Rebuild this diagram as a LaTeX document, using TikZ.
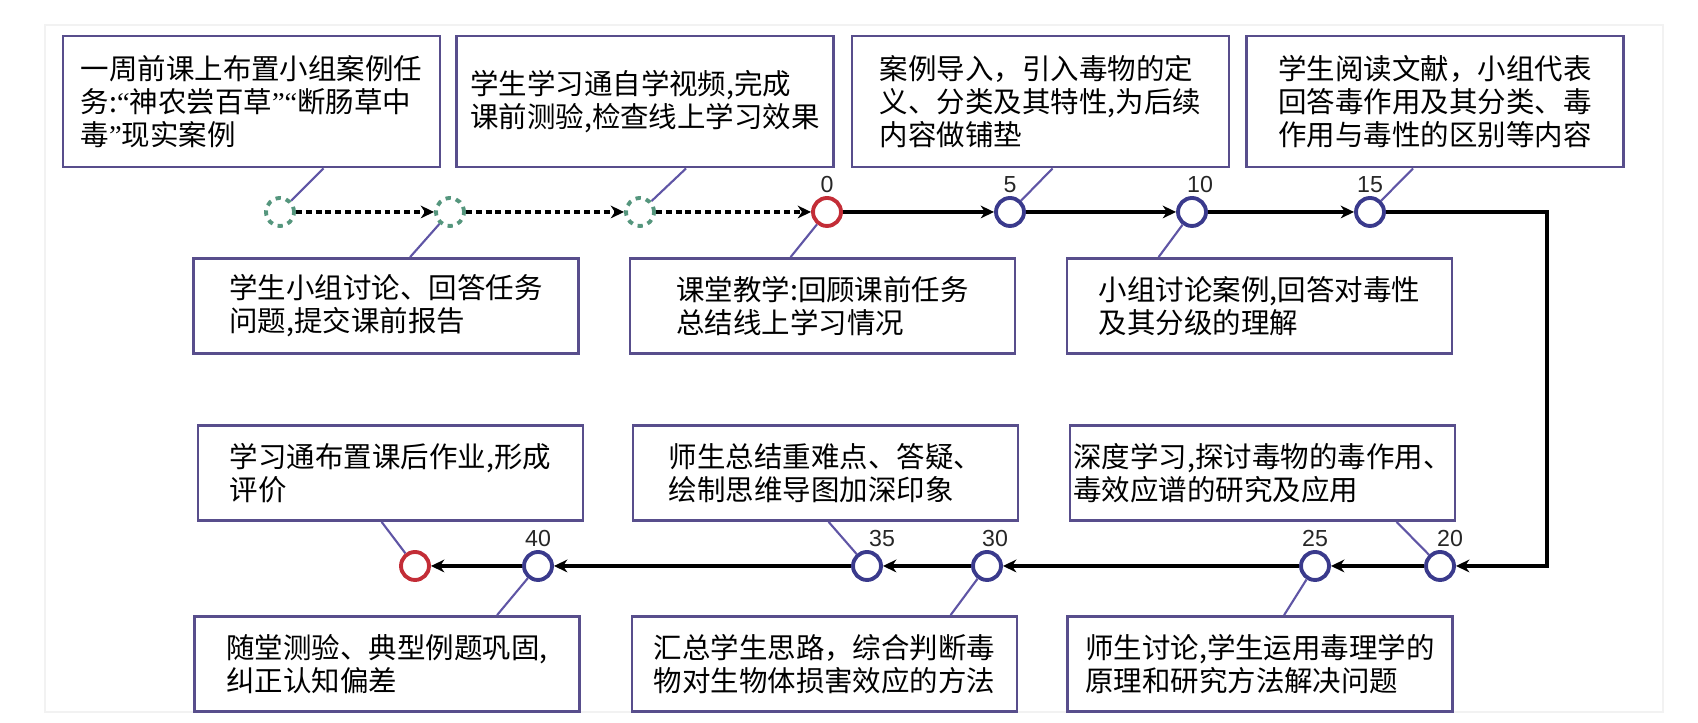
\documentclass[tikz,border=0pt]{standalone}
\usepackage{fontspec}
\usepackage{tikz}
\usetikzlibrary{arrows.meta}
\newfontfamily\cjk{Noto Sans CJK SC}
\newfontfamily\numfont{Liberation Sans}
\newfontfamily\latinserif{Liberation Serif}
\newcommand\oquote{{\latinserif “}}
\newcommand\cquote{{\latinserif ”}}
\definecolor{boxline}{RGB}{88,78,140}
\definecolor{linkline}{RGB}{95,85,165}
\definecolor{ringblue}{RGB}{58,58,140}
\definecolor{ringred}{RGB}{195,45,55}
\definecolor{ringgreen}{RGB}{85,150,125}

\begin{document}
\begin{tikzpicture}[
  topbox/.style={draw=boxline,line width=0.8pt,fill=white,align=left,inner sep=0pt,
    minimum width=3.77cm,minimum height=1.31cm,font=\cjk\fontsize{8.1pt}{9.4pt}\selectfont},
  lowbox/.style={topbox,minimum width=3.85cm,minimum height=0.95cm},
  ring/.style={circle,draw=ringblue,line width=1.1pt,fill=white,minimum size=0.28cm,inner sep=0pt},
  redring/.style={ring,draw=ringred},
  prering/.style={ring,draw=ringgreen,dash pattern=on 1.5pt off 1.5pt},
  numlab/.style={font=\numfont\fontsize{6.6pt}{7pt}\selectfont,text=black!85,inner sep=0.8pt},
  link/.style={draw=linkline,line width=0.6pt},
  flow/.style={line width=0.9pt,-{Stealth[length=3.8pt,width=3.6pt,inset=1.2pt]}},
  preflow/.style={flow,dash pattern=on 1.7pt off 1.1pt},
  ]
  \useasboundingbox (0,0) rectangle (16.98,7.23);
  \draw[black!5] (0.45,0.11) rectangle (16.63,6.98);

  \node[topbox] (b1) at (2.515,6.215) {一周前课上布置小组案例任\\务:\oquote 神农尝百草\cquote\oquote 断肠草中\\毒\cquote 现实案例};
  \node[topbox] (b2) at (6.45,6.215) {学生学习通自学视频,完成\\课前测验,检查线上学习效果};
  \node[topbox] (b3) at (10.405,6.215) {案例导入，引入毒物的定\\义、分类及其特性,为后续\\内容做铺垫};
  \node[topbox] (b4) at (14.35,6.215) {学生阅读文献，小组代表\\回答毒作用及其分类、毒\\作用与毒性的区别等内容};
  \node[lowbox] (b5) at (3.86,4.17) {学生小组讨论、回答任务\\问题,提交课前报告};
  \node[lowbox] (b6) at (8.225,4.17) {课堂教学:回顾课前任务\\总结线上学习情况};
  \node[lowbox] (b7) at (12.595,4.17) {小组讨论案例,回答对毒性\\及其分级的理解};
  \node[lowbox] (b8) at (3.905,2.50) {学习通布置课后作业,形成\\评价};
  \node[lowbox] (b9) at (8.255,2.50) {师生总结重难点、答疑、\\绘制思维导图加深印象};
  \node[lowbox] (b10) at (12.625,2.50) {深度学习,探讨毒物的毒作用、\\毒效应谱的研究及应用};
  \node[lowbox] (b11) at (3.87,0.59) {随堂测验、典型例题巩固,\\纠正认知偏差};
  \node[lowbox] (b12) at (8.245,0.59) {汇总学生思路，综合判断毒\\物对生物体损害效应的方法};
  \node[lowbox] (b13) at (12.60,0.59) {师生讨论,学生运用毒理学的\\原理和研究方法解决问题};

  \node[prering] (d1) at (2.80,5.11) {};
  \node[prering] (d2) at (4.50,5.11) {};
  \node[prering] (d3) at (6.40,5.11) {};
  \node[redring,label={[numlab]above:0}] (r0) at (8.27,5.11) {};
  \node[ring,label={[numlab]above:5}] (c5) at (10.10,5.11) {};
  \node[ring,label={[numlab,xshift=0.08cm]above:10}] (c10) at (11.92,5.11) {};
  \node[ring,label={[numlab]above:15}] (c15) at (13.70,5.11) {};
  \coordinate (turn) at (15.47,5.11);
  \node[ring,label={[numlab,xshift=0.10cm]above:20}] (c20) at (14.40,1.57) {};
  \node[ring,label={[numlab]above:25}] (c25) at (13.15,1.57) {};
  \node[ring,label={[numlab,xshift=0.08cm]above:30}] (c30) at (9.87,1.57) {};
  \node[ring,label={[numlab,xshift=0.15cm]above:35}] (c35) at (8.67,1.57) {};
  \node[ring,label={[numlab]above:40}] (c40) at (5.38,1.57) {};
  \node[redring] (rend) at (4.15,1.57) {};

  \draw[preflow] (d1) -- (d2);
  \draw[preflow] (d2) -- (d3);
  \draw[preflow] (d3) -- (r0);
  \draw[flow] (r0) -- (c5);
  \draw[flow] (c5) -- (c10);
  \draw[flow] (c10) -- (c15);
  \draw[flow] (c15) -- (turn) |- (c20);
  \draw[flow] (c20) -- (c25);
  \draw[flow] (c25) -- (c30);
  \draw[flow] (c30) -- (c35);
  \draw[flow] (c35) -- (c40);
  \draw[flow] (c40) -- (rend);

  \draw[link] ([xshift=2.62cm]b1.south west) -- (d1);
  \draw[link] ([xshift=2.31cm]b2.south west) -- (d3);
  \draw[link] ([xshift=2.02cm]b3.south west) -- (c5);
  \draw[link] ([xshift=1.68cm]b4.south west) -- (c15);
  \draw[link] (d2) -- ([xshift=2.18cm]b5.north west);
  \draw[link] (r0) -- ([xshift=1.62cm]b6.north west);
  \draw[link] (c10) -- ([xshift=0.93cm]b7.north west);
  \draw[link] ([xshift=1.85cm]b8.south west) -- (rend);
  \draw[link] ([xshift=1.97cm]b9.south west) -- (c35);
  \draw[link] ([xshift=3.28cm]b10.south west) -- (c20);
  \draw[link] (c40) -- ([xshift=3.04cm]b11.north west);
  \draw[link] (c30) -- ([xshift=3.20cm]b12.north west);
  \draw[link] (c25) -- ([xshift=2.18cm]b13.north west);
\end{tikzpicture}
\end{document}
